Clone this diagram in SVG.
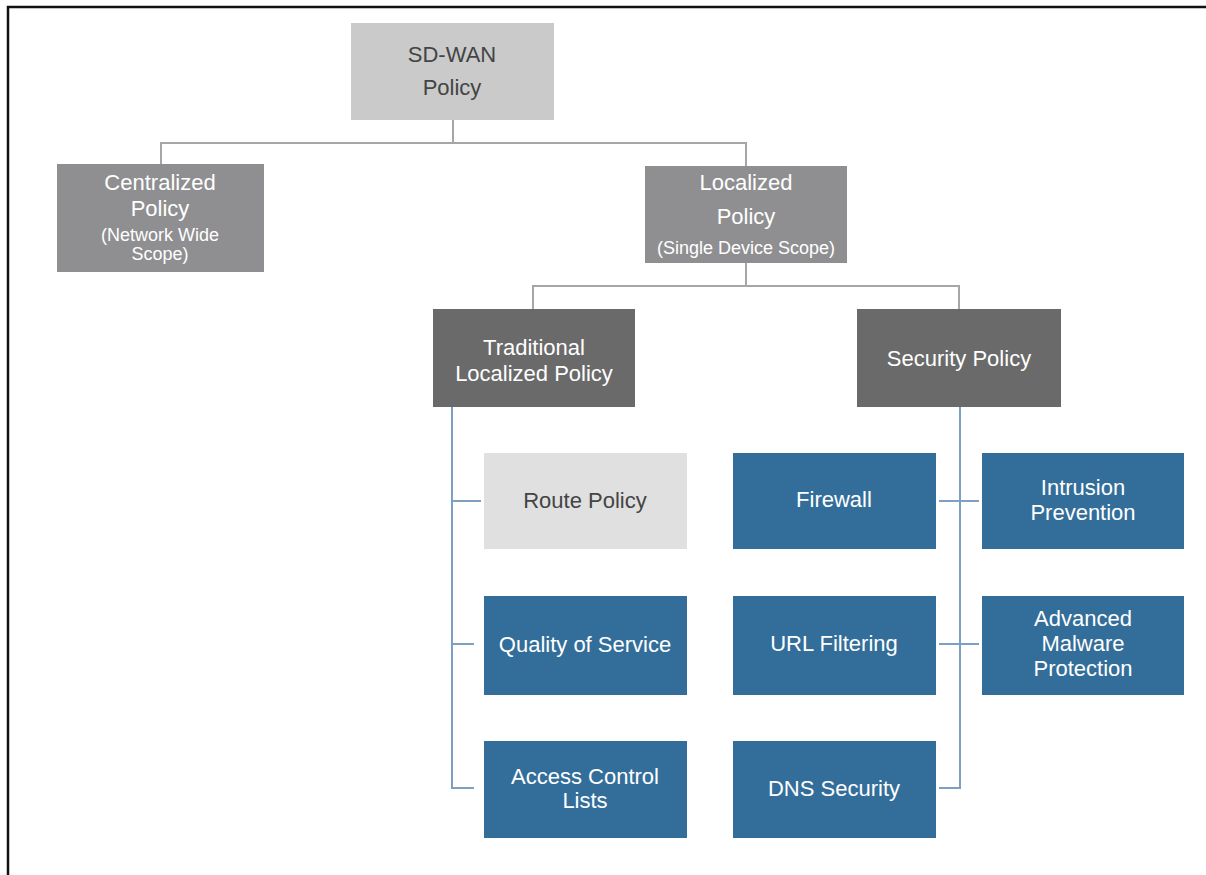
<svg xmlns="http://www.w3.org/2000/svg" width="1206" height="875" viewBox="0 0 1206 875">
<style>
text{font-family:"Liberation Sans",Arial,sans-serif;text-anchor:middle;font-size:22px}
.lt{fill:#cacaca}.md{fill:#8f8f91}.dk{fill:#6a6a6a}.rp{fill:#e0e0e1}.bl{fill:#336e9a}
.w{fill:#ffffff}.d{fill:#444444}.s{font-size:18px}
.g{stroke:#a6a6a6;stroke-width:2;fill:none}.b{stroke:#7d9fc0;stroke-width:2;fill:none}
</style>
<rect width="1206" height="875" fill="#ffffff"/>
<path d="M8 875V7H1206" stroke="#111" stroke-width="2.5" fill="none"/>
<g id="connectors">
<path class="g" d="M453 120V143M161 164V143H746V166M746 263V286M533 309V286H959V309"/>
<path class="b" d="M452 407V788H474M452 501H481M452 644H474"/>
<path class="b" d="M960 407V788H939M939 501H979M939 644H979"/>
</g>
<g id="sdwan"><rect class="lt" x="351" y="23" width="203" height="97"/><text class="d" x="452" y="62">SD-WAN</text><text class="d" x="452" y="95">Policy</text></g>
<g id="centralized"><rect class="md" x="57" y="164" width="207" height="108"/><text class="w" x="160" y="190">Centralized</text><text class="w" x="160" y="216">Policy</text><text class="w s" x="160" y="241">(Network Wide</text><text class="w s" x="160" y="260">Scope)</text></g>
<g id="localized"><rect class="md" x="645" y="166" width="202" height="97"/><text class="w" x="746" y="190">Localized</text><text class="w" x="746" y="224">Policy</text><text class="w s" x="746" y="254">(Single Device Scope)</text></g>
<g id="traditional"><rect class="dk" x="433" y="309" width="202" height="98"/><text class="w" x="534" y="355">Traditional</text><text class="w" x="534" y="381">Localized Policy</text></g>
<g id="security"><rect class="dk" x="857" y="309" width="204" height="98"/><text class="w" x="959" y="366">Security Policy</text></g>
<g id="route"><rect class="rp" x="484" y="453" width="203" height="96"/><text class="d" x="585" y="508">Route Policy</text></g>
<g id="qos"><rect class="bl" x="484" y="596" width="203" height="99"/><text class="w" x="585" y="652">Quality of Service</text></g>
<g id="acl"><rect class="bl" x="484" y="741" width="203" height="97"/><text class="w" x="585" y="784">Access Control</text><text class="w" x="585" y="808">Lists</text></g>
<g id="firewall"><rect class="bl" x="733" y="453" width="203" height="96"/><text class="w" x="834" y="507">Firewall</text></g>
<g id="url"><rect class="bl" x="733" y="596" width="203" height="99"/><text class="w" x="834" y="651">URL Filtering</text></g>
<g id="dns"><rect class="bl" x="733" y="741" width="203" height="97"/><text class="w" x="834" y="796">DNS Security</text></g>
<g id="ips"><rect class="bl" x="982" y="453" width="202" height="96"/><text class="w" x="1083" y="495">Intrusion</text><text class="w" x="1083" y="520">Prevention</text></g>
<g id="amp"><rect class="bl" x="982" y="596" width="202" height="99"/><text class="w" x="1083" y="626">Advanced</text><text class="w" x="1083" y="651">Malware</text><text class="w" x="1083" y="676">Protection</text></g>
</svg>
